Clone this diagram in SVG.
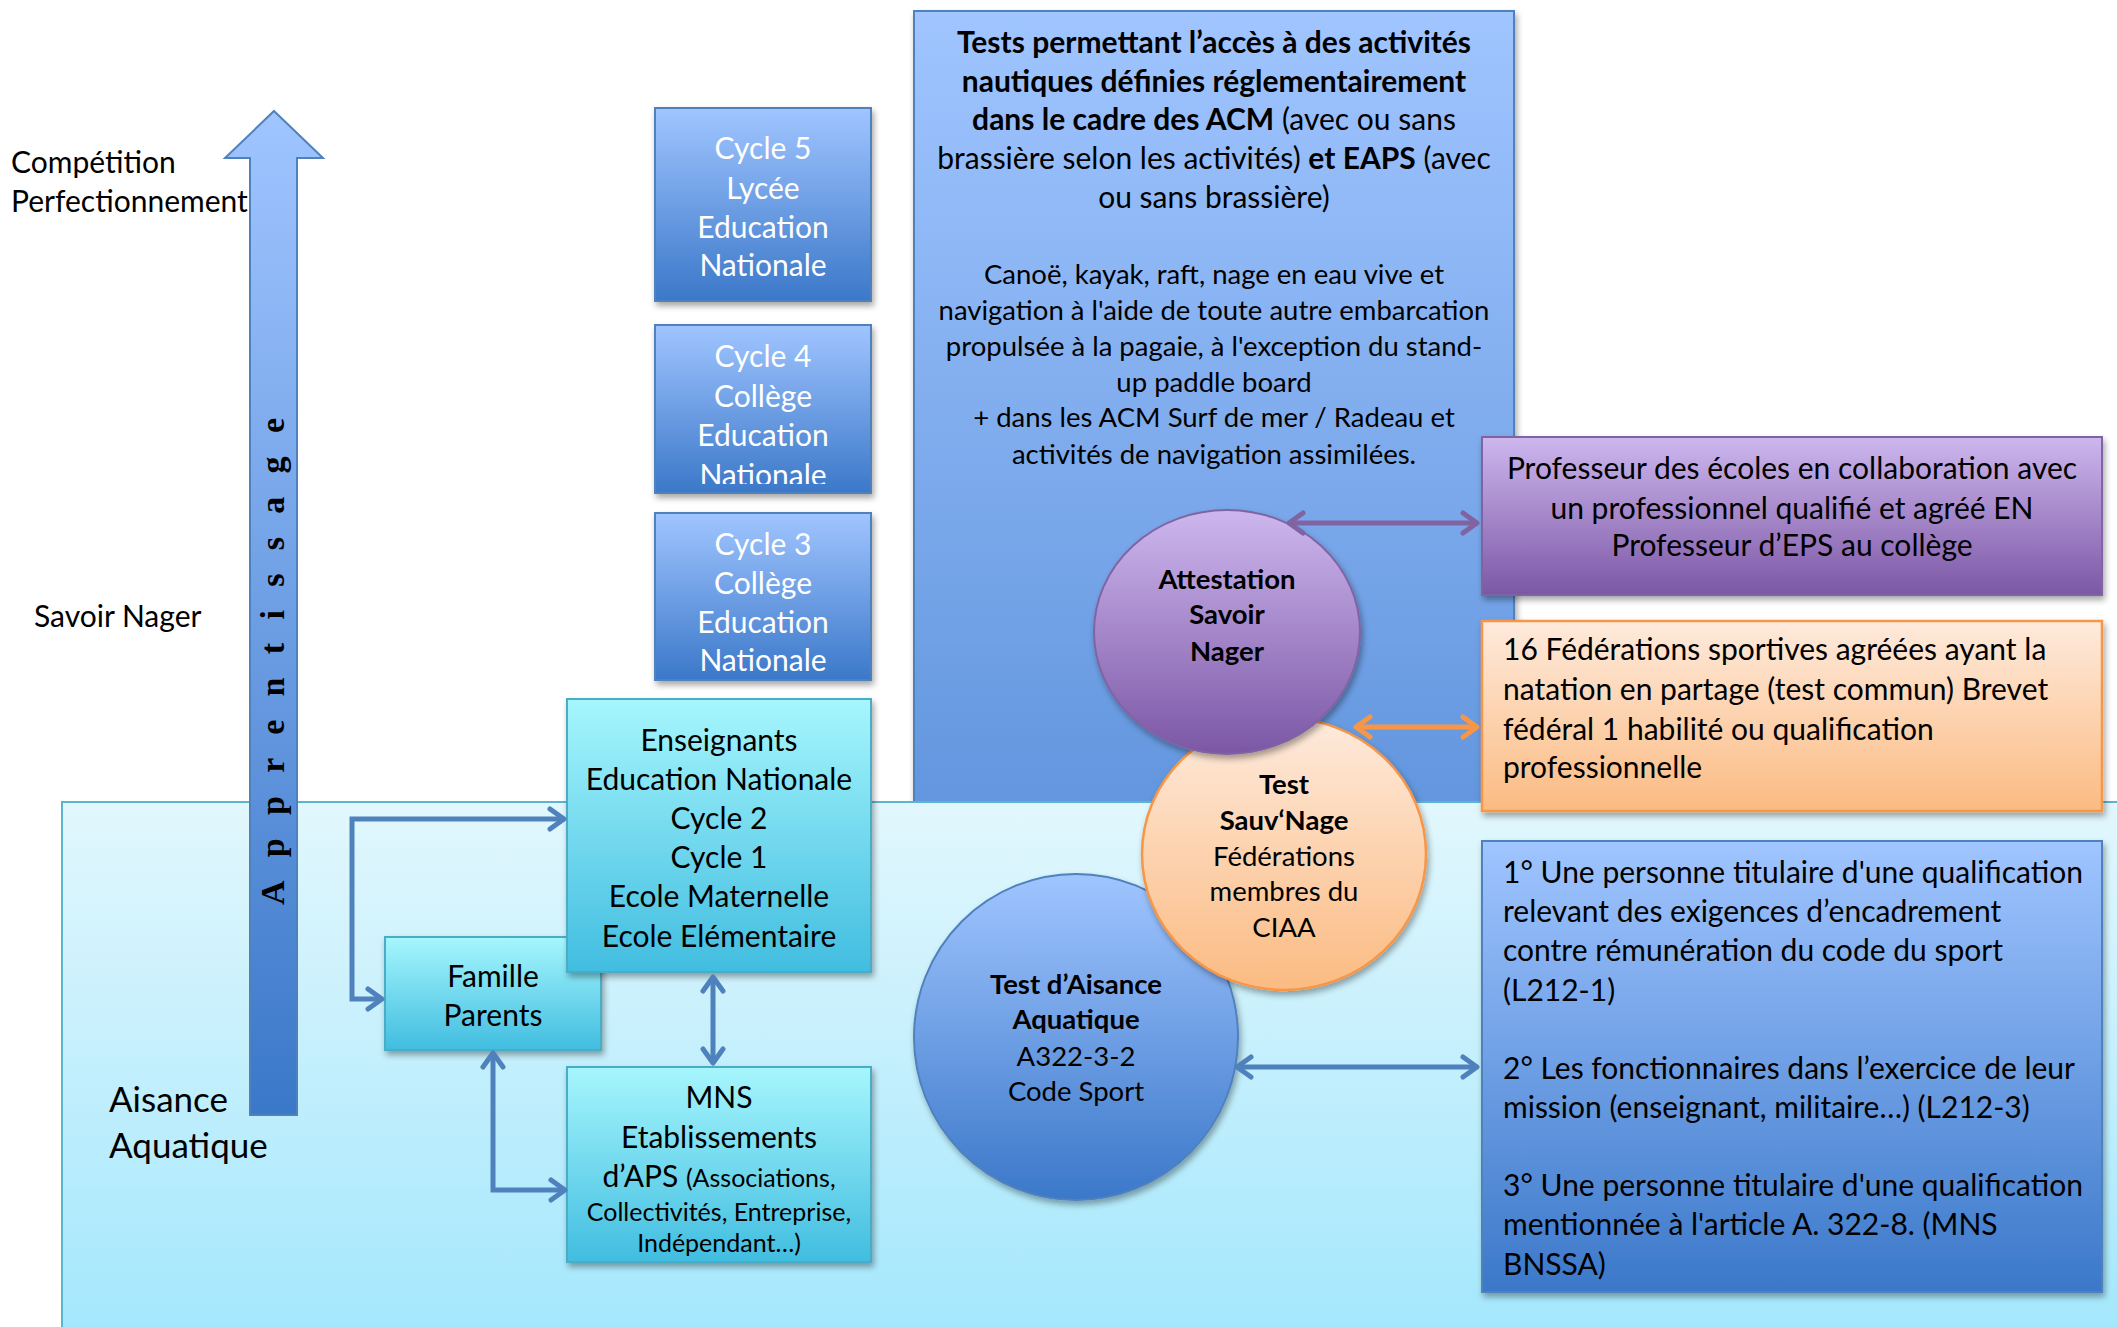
<svg xmlns="http://www.w3.org/2000/svg" width="2117" height="1327" viewBox="0 0 2117 1327">
<defs>
<style>
text{font-family:Lato,"Open Sans","DejaVu Sans",sans-serif;fill:#000;}
.c{text-anchor:middle;}
.w{fill:#fff;}
.b{font-weight:bold;}
.f30{font-size:30px;}
.f27{font-size:27.5px;}
.f25{font-size:25px;}
.bluebox{fill:url(#gBlue);stroke:#4f81bd;stroke-width:2;}
.cyanbox{fill:url(#gCyan);stroke:#4bacc6;stroke-width:2;}
.conn{fill:none;stroke-width:5;}
</style>
<linearGradient id="gBlue" x1="0" y1="0" x2="0" y2="1"><stop offset="0" stop-color="#a0c5ff"/><stop offset="1" stop-color="#3b78c9"/></linearGradient>
<linearGradient id="gCyan" x1="0" y1="0" x2="0" y2="1"><stop offset="0" stop-color="#a6f6fd"/><stop offset="1" stop-color="#41bde0"/></linearGradient>
<linearGradient id="gPurple" x1="0" y1="0" x2="0" y2="1"><stop offset="0" stop-color="#cdb7ee"/><stop offset="1" stop-color="#7c57a5"/></linearGradient>
<linearGradient id="gOrange" x1="0" y1="0" x2="0" y2="1"><stop offset="0" stop-color="#feeadc"/><stop offset="1" stop-color="#fbbb82"/></linearGradient>
<linearGradient id="gZone" x1="0" y1="0" x2="0" y2="1"><stop offset="0" stop-color="#e2f7fd"/><stop offset="1" stop-color="#a3e7fc"/></linearGradient>
<filter id="sh" x="-10%" y="-10%" width="125%" height="125%"><feDropShadow dx="2" dy="4" stdDeviation="3" flood-color="#000" flood-opacity="0.35"/></filter>
<clipPath id="clipC4"><rect x="655" y="325" width="216" height="159"/></clipPath>
<marker id="mBlue" viewBox="-18 -13 22 26" refX="0" refY="0" markerWidth="22" markerHeight="26" markerUnits="userSpaceOnUse" orient="auto-start-reverse"><path d="M-14,-10 L0,0 L-14,10" fill="none" stroke="#4f81bd" stroke-width="5" stroke-linecap="round" stroke-linejoin="round"/></marker>
<marker id="mPurple" viewBox="-18 -13 22 26" refX="0" refY="0" markerWidth="22" markerHeight="26" markerUnits="userSpaceOnUse" orient="auto-start-reverse"><path d="M-14,-10 L0,0 L-14,10" fill="none" stroke="#8064a2" stroke-width="5" stroke-linecap="round" stroke-linejoin="round"/></marker>
<marker id="mOrange" viewBox="-18 -13 22 26" refX="0" refY="0" markerWidth="22" markerHeight="26" markerUnits="userSpaceOnUse" orient="auto-start-reverse"><path d="M-14,-10 L0,0 L-14,10" fill="none" stroke="#f79646" stroke-width="5" stroke-linecap="round" stroke-linejoin="round"/></marker>
</defs>

<rect x="0" y="0" width="2117" height="1327" fill="#fff"/>

<g id="labels-left">
<text class="f30" x="11" y="173">Compétition</text>
<text class="f30" x="11" y="212">Perfectionnement</text>
<text class="f30" x="34" y="627">Savoir Nager</text>
</g>

<g id="tests-acm">
<rect x="914" y="11" width="600" height="1300" fill="url(#gBlue)" stroke="#4f81bd" stroke-width="2" filter="url(#sh)"/>
<text class="c f30" x="1214"><tspan class="b" x="1214" y="53">Tests permettant l’accès à des activités</tspan><tspan class="b" x="1214" y="92">nautiques définies réglementairement</tspan><tspan x="1214" y="130"><tspan class="b">dans le cadre des ACM</tspan> (avec ou sans</tspan><tspan x="1214" y="169">brassière selon les activités) <tspan class="b">et EAPS</tspan> (avec</tspan><tspan x="1214" y="208">ou sans brassière)</tspan></text>
<text class="c f27" x="1214"><tspan x="1214" y="284">Canoë, kayak, raft, nage en eau vive et</tspan><tspan x="1214" y="320">navigation à l'aide de toute autre embarcation</tspan><tspan x="1214" y="356">propulsée à la pagaie, à l'exception du stand-</tspan><tspan x="1214" y="392">up paddle board</tspan><tspan x="1214" y="427">+ dans les ACM Surf de mer / Radeau et</tspan><tspan x="1214" y="464">activités de navigation assimilées.</tspan></text>
</g>

<g id="zone-aisance">
<rect x="62" y="802" width="2070" height="540" fill="url(#gZone)" stroke="#5ab5d0" stroke-width="2"/>
<text style="font-size:35px" x="109" y="1112">Aisance</text>
<text style="font-size:35px" x="109" y="1158">Aquatique</text>
</g>

<g id="arrow-apprentissage">
<polygon points="274,111 323,158 297,158 297,1115 250,1115 250,158 225,158" fill="url(#gBlue)" stroke="#4f81bd" stroke-width="2"/>
<text transform="translate(284,905) rotate(-90)" x="0" y="0" textLength="487" lengthAdjust="spacing" style="font-family:'Liberation Serif','Times New Roman',serif;font-size:34px;font-weight:bold">Apprentissage</text>
</g>

<g id="cycle5">
<rect class="bluebox" x="655" y="108" width="216" height="193" filter="url(#sh)"/>
<text class="c w f30"><tspan x="763" y="159">Cycle 5</tspan><tspan x="763" y="199">Lycée</tspan><tspan x="763" y="238">Education</tspan><tspan x="763" y="276">Nationale</tspan></text>
</g>
<g id="cycle4">
<rect class="bluebox" x="655" y="325" width="216" height="168" filter="url(#sh)"/>
<text class="c w f30" clip-path="url(#clipC4)"><tspan x="763" y="367">Cycle 4</tspan><tspan x="763" y="407">Collège</tspan><tspan x="763" y="446">Education</tspan><tspan x="763" y="486">Nationale</tspan></text>
</g>
<g id="cycle3">
<rect class="bluebox" x="655" y="513" width="216" height="167" filter="url(#sh)"/>
<text class="c w f30"><tspan x="763" y="555">Cycle 3</tspan><tspan x="763" y="594">Collège</tspan><tspan x="763" y="633">Education</tspan><tspan x="763" y="671">Nationale</tspan></text>
</g>

<g id="famille">
<rect class="cyanbox" x="385" y="937" width="216" height="113" filter="url(#sh)"/>
<text class="c f30"><tspan x="493" y="987">Famille</tspan><tspan x="493" y="1026">Parents</tspan></text>
</g>

<g id="enseignants">
<rect class="cyanbox" x="567" y="699" width="304" height="273" filter="url(#sh)"/>
<text class="c f30"><tspan x="719" y="751">Enseignants</tspan><tspan x="719" y="790">Education Nationale</tspan><tspan x="719" y="829">Cycle 2</tspan><tspan x="719" y="868">Cycle 1</tspan><tspan x="719" y="907">Ecole Maternelle</tspan><tspan x="719" y="947">Ecole Elémentaire</tspan></text>
</g>

<g id="mns">
<rect class="cyanbox" x="567" y="1067" width="304" height="195" filter="url(#sh)"/>
<text class="c f30"><tspan x="719" y="1108">MNS</tspan><tspan x="719" y="1148">Etablissements</tspan><tspan x="719" y="1187">d’APS <tspan class="f25">(Associations,</tspan></tspan></text>
<text class="c f25"><tspan x="719" y="1221">Collectivités, Entreprise,</tspan><tspan x="719" y="1252">Indépendant…)</tspan></text>
</g>

<g id="test-aisance">
<ellipse cx="1076" cy="1037" rx="162" ry="163" fill="url(#gBlue)" stroke="#4f81bd" stroke-width="2" filter="url(#sh)"/>
<text class="c f27"><tspan class="b" x="1076" y="994">Test d’Aisance</tspan><tspan class="b" x="1076" y="1029">Aquatique</tspan><tspan x="1076" y="1066">A322-3-2</tspan><tspan x="1076" y="1101">Code Sport</tspan></text>
</g>

<g id="test-sauvnage">
<ellipse cx="1284" cy="854" rx="142" ry="136" fill="url(#gOrange)" stroke="#f79646" stroke-width="2.5" filter="url(#sh)"/>
<text class="c f27"><tspan class="b" x="1284" y="794">Test</tspan><tspan class="b" x="1284" y="830">Sauv‘Nage</tspan><tspan x="1284" y="866">Fédérations</tspan><tspan x="1284" y="901">membres du</tspan><tspan x="1284" y="937">CIAA</tspan></text>
</g>

<g id="attestation">
<ellipse cx="1227" cy="632" rx="133" ry="122" fill="url(#gPurple)" stroke="#8064a2" stroke-width="2" filter="url(#sh)"/>
<text class="c f27 b"><tspan x="1227" y="589">Attestation</tspan><tspan x="1227" y="624">Savoir</tspan><tspan x="1227" y="661">Nager</tspan></text>
</g>

<g id="box-professeur">
<rect x="1482" y="437" width="620" height="158" fill="url(#gPurple)" stroke="#8064a2" stroke-width="2" filter="url(#sh)"/>
<text class="c f30"><tspan x="1792" y="479">Professeur des écoles en collaboration avec</tspan><tspan x="1792" y="519">un professionnel qualifié et agréé EN</tspan><tspan x="1792" y="556">Professeur d’EPS au collège</tspan></text>
</g>

<g id="box-federations">
<rect x="1482" y="621" width="620" height="190" fill="url(#gOrange)" stroke="#f79646" stroke-width="2.5" filter="url(#sh)"/>
<text class="f30"><tspan x="1503" y="660">16 Fédérations sportives agréées ayant la</tspan><tspan x="1503" y="700">natation en partage (test commun) Brevet</tspan><tspan x="1503" y="740">fédéral 1 habilité ou qualification</tspan><tspan x="1503" y="778">professionnelle</tspan></text>
</g>

<g id="box-code-sport">
<rect class="bluebox" x="1482" y="841" width="620" height="451" filter="url(#sh)"/>
<text class="f30"><tspan x="1503" y="883">1° Une personne titulaire d'une qualification</tspan><tspan x="1503" y="922">relevant des exigences d’encadrement</tspan><tspan x="1503" y="961">contre rémunération du code du sport</tspan><tspan x="1503" y="1001">(L212-1)</tspan><tspan x="1503" y="1079">2° Les fonctionnaires dans l’exercice de leur</tspan><tspan x="1503" y="1118">mission (enseignant, militaire…) (L212-3)</tspan><tspan x="1503" y="1196">3° Une personne titulaire d'une qualification</tspan><tspan x="1503" y="1235">mentionnée à l'article A. 322-8. (MNS</tspan><tspan x="1503" y="1275">BNSSA)</tspan></text>
</g>

<g id="connectors">
<path class="conn" stroke="#4f81bd" d="M382,999 L352,999 L352,819 L564,819" marker-start="url(#mBlue)" marker-end="url(#mBlue)"/>
<path class="conn" stroke="#4f81bd" d="M493,1053 L493,1190 L565,1190" marker-start="url(#mBlue)" marker-end="url(#mBlue)"/>
<path class="conn" stroke="#4f81bd" d="M713,977 L713,1063" marker-start="url(#mBlue)" marker-end="url(#mBlue)"/>
<path class="conn" stroke="#8064a2" d="M1289,523 L1477,523" marker-start="url(#mPurple)" marker-end="url(#mPurple)"/>
<path class="conn" stroke="#f79646" d="M1356,727 L1477,727" marker-start="url(#mOrange)" marker-end="url(#mOrange)"/>
<path class="conn" stroke="#4f81bd" d="M1237,1067 L1477,1067" marker-start="url(#mBlue)" marker-end="url(#mBlue)"/>
</g>
</svg>
